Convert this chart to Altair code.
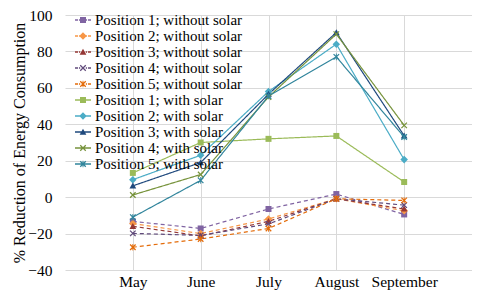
import json
import altair as alt
import pandas as pd

months = ["May", "June", "July", "August", "September"]
series_names = [
    "Position 1; without solar",
    "Position 2; without solar",
    "Position 3; without solar",
    "Position 4; without solar",
    "Position 5; without solar",
    "Position 1; with solar",
    "Position 2; with solar",
    "Position 3; with solar",
    "Position 4; with solar",
    "Position 5; with solar",
]
p1_without = [-13.3, -17.2, -6.5, 1.7, -9.5]
p2_without = [-14.5, -20.0, -12.0, -0.9, -7.5]
p3_without = [-16.0, -21.3, -13.3, -0.9, -6.5]
p4_without = [-19.9, -21.0, -14.7, -0.9, -4.4]
p5_without = [-27.5, -23.0, -17.2, -0.9, -1.8]
p1_with = [13.3, 30.0, 32.0, 33.6, 8.3]
p2_with = [9.6, 23.0, 58.0, 84.0, 20.6]
p3_with = [6.2, 19.0, 56.5, 90.4, 33.7]
p4_with = [1.2, 12.4, 55.0, 89.5, 39.4]
p5_with = [-11.0, 9.2, 55.5, 77.0, 33.0]
values = [p1_without, p2_without, p3_without, p4_without, p5_without,
          p1_with, p2_with, p3_with, p4_with, p5_with]
solar = ["without"] * 5 + ["with"] * 5
markers = ["square", "diamond", "triangle", "x", "star"] * 2
colors = ["#8064A2", "#F79646", "#953735", "#604A7B", "#E46C0A",
          "#9BBB59", "#4BACC6", "#1F497D", "#77933C", "#31859C"]
y_ticks = [-40, -20, 0, 20, 40, 60, 80, 100]

# marker glyphs (unit coordinates, scaled by symbol size)
marker_paths = {
    "square": "M-0.375,-0.375H0.375V0.375H-0.375Z",
    "diamond": "M0,-0.47L0.47,0L0,0.47L-0.47,0Z",
    "triangle": "M0,-0.42L0.42,0.33L-0.42,0.33Z",
    "x": "M-0.4,-0.29L-0.29,-0.4L0.4,0.29L0.29,0.4Z"
         "M-0.29,0.4L-0.4,0.29L0.29,-0.4L0.4,-0.29Z",
}
marker_paths["star"] = marker_paths["x"] + "M-0.055,-0.41H0.055V0.41H-0.055Z"
solid_line = "M-1,-0.085H1V0.085H-1Z"
dashed_line = ("M-1,-0.085H-0.62V0.085H-1Z"
               "M-0.5,-0.085H-0.35V0.085H-0.5Z"
               "M0.35,-0.085H0.5V0.085H0.35Z"
               "M0.62,-0.085H1V0.085H0.62Z")
legend_paths = [(dashed_line if s == "without" else solid_line) + marker_paths[m]
                for s, m in zip(solar, markers)]

rows = []
for name, vals, s, m in zip(series_names, values, solar, markers):
    for i, v in enumerate(vals):
        rows.append({"series": name, "solar": s, "marker": m,
                     "idx": i + 1, "value": v})
df = pd.DataFrame(rows)

FONT = "Liberation Serif, Times New Roman, Times, serif"
label_expr = ("datum.value >= 1 && datum.value <= 5 ? "
              + json.dumps(months) + "[datum.value - 1] : ''")

x_enc = alt.X("idx:Q", scale=alt.Scale(domain=[0, 6], nice=False),
              axis=alt.Axis(values=[1, 2, 3, 4, 5, 6], labelExpr=label_expr,
                            grid=True, gridColor="#d9d9d9", ticks=False,
                            domain=False, title=None, labelFont=FONT,
                            labelFontSize=15.5, labelColor="#000000",
                            labelPadding=4, labelOverlap=False))
y_enc = alt.Y("value:Q", scale=alt.Scale(domain=[-40, 100], nice=False),
              axis=alt.Axis(values=y_ticks, grid=True, gridColor="#d9d9d9",
                            ticks=False, domain=False,
                            title="% Reduction of Energy Consumption",
                            titleFont=FONT, titleFontSize=16,
                            titleFontWeight="normal", titleColor="#000000",
                            titlePadding=0, labelFont=FONT,
                            labelFontSize=15.5, labelColor="#000000",
                            labelPadding=13))
color_scale = alt.Scale(domain=series_names, range=colors)

base = alt.Chart(df)

leg = alt.Legend(title=None, orient="none", legendX=10, legendY=-3, padding=0,
                 columns=1, symbolSize=256, symbolStrokeWidth=0, rowPadding=0,
                 labelFont=FONT, labelFontSize=15, labelColor="#000000",
                 labelOffset=4, labelLimit=400)
legend_layer = base.transform_filter("false").mark_point(
    filled=True, opacity=1, size=256
).encode(
    x=x_enc, y=y_enc,
    color=alt.Color("series:N", scale=color_scale, legend=leg),
    shape=alt.Shape("series:N",
                    scale=alt.Scale(domain=series_names, range=legend_paths),
                    legend=leg),
)

lines = base.mark_line(strokeWidth=1.2).encode(
    x=x_enc, y=y_enc,
    color=alt.Color("series:N", scale=color_scale, legend=None),
    strokeDash=alt.StrokeDash("solar:N",
                              scale=alt.Scale(domain=["without", "with"],
                                              range=[[4, 3], [1, 0]]),
                              legend=None),
    detail="series:N",
)

point_layers = []
for m in ["square", "diamond", "triangle", "x", "star"]:
    point_layers.append(
        base.transform_filter(alt.datum.marker == m)
        .mark_point(shape=marker_paths[m], filled=True, opacity=1, size=256)
        .encode(x=x_enc, y=y_enc,
                color=alt.Color("series:N", scale=color_scale, legend=None))
    )

chart = alt.layer(legend_layer, lines, *point_layers).properties(
    width=407, height=255,
    autosize=alt.AutoSizeParams(type="none"),
    padding={"left": 57, "top": 7, "right": 0, "bottom": 21},
).configure_view(strokeWidth=0)

chart.save("out.html", embed_options={"renderer": "svg", "actions": False})
